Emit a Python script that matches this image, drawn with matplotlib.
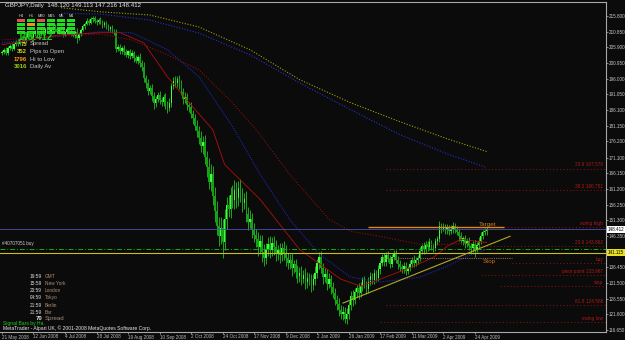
import numpy as np
import matplotlib
matplotlib.use("Agg")
import matplotlib.pyplot as plt
from matplotlib.patches import Rectangle

# GBPJPY daily bars, 21 May 2008 -> early May 2009
first_open = 204.0
closes = [
    204.5, 205.2, 204.0, 205.8, 206.3, 205.5, 207.0, 207.6, 206.9, 208.2,
    208.8, 207.9, 209.3, 210.1, 209.4, 208.6, 210.2, 210.9, 209.8, 210.5,
    211.2, 210.4, 211.6, 212.0, 210.9, 211.5, 212.3, 211.7, 210.8, 211.9,
    211.0, 209.9, 210.7, 211.8, 211.2, 210.3, 209.6, 210.8, 208.7, 210.2,
    211.5, 212.6, 213.4, 214.2, 213.6, 214.8, 215.1, 214.3, 213.8, 214.6,
    213.9, 212.8, 213.5, 212.4, 211.6, 212.2, 211.0, 210.6, 205.4, 205.9,
    204.8, 205.6, 204.3, 203.5, 204.6, 203.2, 204.0, 202.5, 201.6, 202.8,
    200.9, 199.8, 196.2, 194.5, 192.1, 193.0, 190.4, 188.2, 189.6, 190.8,
    189.3, 188.5, 190.1, 187.9, 186.8, 188.4, 193.6, 195.2, 194.7, 195.9,
    194.1, 191.8, 189.5, 190.3, 187.6, 186.9, 184.8, 183.5, 181.2, 179.6,
    177.4, 174.8, 175.9, 171.2, 168.0, 163.5, 165.8, 158.9, 154.2, 149.6,
    146.3, 148.8, 144.5, 151.7, 156.2, 154.8, 159.4, 157.6, 160.8, 158.3,
    161.5, 159.2, 156.8, 157.9, 153.4, 150.6, 151.8, 148.2, 146.5, 145.3,
    142.8, 144.6, 141.2, 139.4, 142.3, 143.8, 141.9, 144.2, 142.7, 140.5,
    141.8, 140.2, 142.6, 141.0, 139.3, 137.8, 138.9, 136.2, 137.4, 135.1,
    133.6, 134.8, 132.9, 134.1, 131.8, 133.2, 132.4, 130.9, 132.6, 134.5,
    137.8, 139.6, 136.2, 133.5, 134.4, 131.2, 132.8, 130.1, 128.4, 126.2,
    124.8, 123.1, 121.6, 122.4, 120.2, 121.8, 124.6, 127.3, 126.1, 128.5,
    129.8, 128.2, 130.6, 132.4, 131.1, 129.6, 131.9, 133.8, 132.5, 134.6,
    133.2, 135.8, 137.9, 139.6, 138.2, 140.4, 139.1, 137.6, 139.8, 140.6,
    138.9, 137.4, 136.5, 135.8, 136.9, 135.4, 136.2, 137.5, 138.8, 137.9,
    138.6, 139.4, 141.6, 143.2, 142.1, 143.8, 142.9, 144.3, 143.1, 142.4,
    144.6, 145.3, 149.4, 148.6, 149.2, 148.1, 148.9, 147.8, 148.5, 149.6,
    148.3, 147.6, 146.2, 144.8, 145.6, 143.9, 144.7, 143.2, 142.6, 143.8,
    141.9, 143.5, 144.9, 146.3, 147.5, 147.9, 148.412,
]
wick_hi = [
    0.6, 0.4, 0.9, 0.5, 0.7, 0.8, 0.4, 0.6, 1.0, 0.5,
    0.7, 0.9, 0.4, 0.6, 0.8, 0.5, 0.7, 0.4, 0.9, 0.6,
    0.5, 0.8, 0.6, 0.4, 0.9, 0.7, 0.5, 0.8, 0.6, 0.4,
    0.7, 0.9, 0.5, 0.6, 0.8, 0.4, 0.7, 0.5, 1.1, 0.6,
    0.5, 0.7, 0.6, 0.9, 0.5, 0.6, 0.8, 0.7, 0.5, 0.6,
    0.8, 0.5, 0.7, 0.6, 0.9, 0.5, 0.8, 0.6, 1.2, 0.9,
    1.0, 0.7, 0.9, 1.1, 0.6, 0.8, 1.0, 0.7, 0.9, 0.8,
    1.2, 0.9, 1.4, 1.0, 1.3, 0.9, 1.2, 1.5, 1.0, 1.1,
    1.3, 0.9, 1.2, 1.4, 1.0, 1.6, 1.1, 1.3, 1.5, 0.9,
    1.2, 1.5, 1.1, 1.4, 1.3, 1.0, 1.6, 1.2, 1.4, 1.8,
    1.5, 2.2, 1.9, 2.4, 2.0, 2.8, 3.2, 2.5, 2.9, 3.1,
    2.6, 3.4, 2.8, 3.1, 2.5, 3.0, 2.4, 2.9, 3.2, 2.6,
    2.2, 2.7, 2.4, 1.9, 2.5, 2.1, 2.6, 1.8, 2.3, 2.0,
    2.4, 1.9, 2.2, 2.6, 1.8, 2.1, 2.5, 1.7, 2.0, 2.3,
    1.8, 2.2, 1.6, 2.0, 2.4, 1.7, 1.9, 2.2, 1.5, 1.8,
    2.1, 1.6, 1.9, 1.4, 2.0, 1.7, 1.5, 1.9, 1.6, 2.2,
    1.4, 1.8, 2.0, 1.6, 1.9, 1.5, 1.8, 1.3, 1.7, 1.5,
    1.6, 1.9, 1.4, 1.7, 1.5, 1.8, 1.3, 1.6, 1.9, 1.4,
    1.2, 1.6, 1.3, 1.0, 1.4, 1.1, 1.5, 1.2, 0.9, 1.3,
    1.1, 1.4, 1.0, 1.2, 1.5, 0.9, 1.3, 1.1, 1.0, 1.2,
    1.4, 1.0, 1.2, 0.9, 1.3, 1.1, 0.8, 1.2, 1.0, 1.4,
    1.1, 0.9, 1.3, 1.0, 1.2, 0.8, 1.1, 1.3, 0.9, 1.0,
    1.2, 0.9, 1.6, 1.1, 1.3, 0.9, 1.2, 1.0, 1.4, 1.1,
    0.9, 1.2, 1.0, 1.3, 0.8, 1.1, 1.0, 1.2, 0.9, 1.1,
    1.3, 0.9, 1.0, 1.2, 0.8, 1.1, 0.7,
]
wick_lo = [
    0.5, 0.8, 0.6, 0.4, 0.9, 0.7, 0.5, 0.8, 0.6, 0.4,
    0.8, 0.6, 0.5, 0.9, 0.4, 0.7, 0.6, 0.8, 0.5, 0.7,
    0.9, 0.5, 0.7, 0.6, 0.8, 0.4, 0.7, 0.9, 0.5, 0.6,
    0.6, 0.8, 0.5, 0.7, 0.4, 0.9, 0.6, 0.8, 1.3, 0.5,
    0.7, 0.5, 0.8, 0.6, 0.7, 0.5, 0.9, 0.6, 0.8, 0.5,
    0.6, 0.9, 0.5, 0.7, 0.6, 0.8, 0.5, 0.9, 1.0, 0.8,
    0.9, 1.1, 0.8, 0.7, 1.0, 0.9, 0.6, 1.1, 0.8, 1.0,
    1.1, 1.4, 1.2, 1.6, 1.3, 1.1, 1.5, 1.8, 1.2, 1.0,
    1.4, 1.2, 1.0, 1.5, 1.7, 1.1, 1.3, 0.9, 1.2, 1.4,
    1.3, 1.1, 1.6, 1.2, 1.5, 1.4, 1.3, 1.7, 1.5, 1.9,
    2.1, 1.8, 2.6, 2.3, 2.9, 2.4, 3.1, 2.7, 3.3, 2.8,
    3.0, 2.5, 5.0, 2.7, 3.2, 2.6, 2.9, 2.4, 2.8, 3.1,
    2.5, 2.2, 2.8, 2.0, 2.6, 2.3, 1.9, 2.5, 2.1, 2.4,
    2.7, 2.0, 3.2, 2.4, 1.9, 2.2, 2.6, 1.8, 2.3, 2.1,
    1.9, 2.3, 1.7, 2.1, 2.5, 1.8, 2.0, 2.4, 1.6, 1.9,
    2.2, 1.7, 2.0, 1.5, 2.3, 1.8, 1.6, 2.1, 1.7, 1.9,
    1.5, 2.0, 1.7, 2.2, 1.6, 1.9, 1.4, 2.0, 1.8, 1.6,
    1.7, 2.0, 1.5, 1.9, 1.4, 1.6, 1.8, 1.5, 2.0, 1.3,
    1.4, 1.7, 1.2, 1.5, 1.1, 1.6, 1.3, 1.0, 1.4, 1.2,
    1.3, 1.0, 1.5, 1.1, 1.4, 1.2, 0.9, 1.3, 1.1, 1.0,
    1.2, 1.5, 1.1, 1.3, 1.0, 1.4, 1.2, 0.9, 1.1, 1.3,
    1.0, 1.2, 0.9, 1.1, 1.4, 1.0, 1.2, 0.9, 1.3, 1.1,
    0.9, 1.1, 1.0, 1.3, 0.8, 1.2, 1.0, 1.1, 0.9, 1.2,
    1.1, 0.9, 1.3, 1.0, 1.2, 1.4, 1.1, 1.3, 1.6, 1.2,
    2.3, 1.0, 0.9, 1.1, 1.0, 0.8, 1.2,
]

# moving averages, read at bar positions
ma_yel_i = [30, 50, 75, 100, 126, 151, 177, 202, 227, 246]
ma_yel = [218.4, 217.1, 216.1, 212.3, 205.1, 195.7, 188.4, 182.4, 176.8, 173.0]
ma_blu_i = [30, 50, 75, 100, 126, 151, 177, 202, 227, 246]
ma_blu = [216.6, 216.4, 214.5, 210.4, 203.5, 194.7, 186.2, 178.3, 172.0, 168.0]
ma_mid_i = [0, 26, 50, 66, 84, 100, 117, 131, 146, 161, 177, 192, 212, 226, 236, 246]
ma_mid = [207.3, 209.2, 210.8, 210.5, 205.1, 196.6, 180.9, 165.8, 151.6, 140.6,
          133.3, 131.8, 133.3, 136.8, 139.9, 142.1]
ma_fast_i = [0, 14, 29, 50, 60, 72, 84, 95, 107, 113, 131, 151, 172, 182, 192,
             209, 219, 226, 233, 246]
ma_fast = [206.7, 208.2, 209.8, 210.5, 210.5, 207.3, 196.6, 188.4, 179.9, 168.9,
           157.9, 142.1, 132.7, 130.5, 132.7, 136.8, 139.6, 143.1, 145.3, 144.3]
ma_red_i = [0, 24, 50, 66, 84, 100, 117, 129, 146, 166, 177, 192, 212, 226, 246]
ma_red = [208.2, 209.2, 210.1, 208.2, 203.5, 198.8, 188.4, 179.9, 165.8, 151.6,
          147.8, 146.2, 143.7, 143.7, 144.3]

# fib / object levels: price, label, start bar
fib_prices = [167.578, 160.751, 149.07, 143.1, 137.7, 133.967, 130.5, 124.586, 119.2]
fib_labels = ["23.6 167.578", "38.2 160.751", "swing high", "23.6 143.862", "buy",
              "pivot point 133.967", "stop", "61.8 124.586", "swing low"]
fib_start = [195, 195, 255, 239, 259, 243, 253, 195, 192]

bid = 148.412
line_price = 141.115
order_price = 142.15
target_price = 149.07
stop_price = 139.3
trend_i = [173.1, 257.9]
trend_p = [125.15, 146.24]

date_labels = ["21 May 2008", "12 Jun 2008", "4 Jul 2008", "28 Jul 2008", "19 Aug 2008",
               "10 Sep 2008", "2 Oct 2008", "24 Oct 2008", "17 Nov 2008", "9 Dec 2008",
               "2 Jan 2009", "26 Jan 2009", "17 Feb 2009", "11 Mar 2009", "2 Apr 2009",
               "24 Apr 2009"]
date_pos = [0, 16, 32, 48, 64, 80, 96, 112, 128, 144, 160, 176, 192, 208, 224, 240]
price_ticks = [215.8, 210.85, 205.9, 200.95, 196.0, 191.05, 186.1, 181.15, 176.2, 171.1,
               166.15, 161.2, 156.25, 151.3, 146.35, 136.45, 131.5, 126.55, 121.6, 116.65]

panel_tf = ["H4", "H1", "M30", "M15", "M5", "M1"]
panel_colors = [
    ["#e05050", "#22dd22", "#e05050", "#22dd22", "#22dd22", "#22dd22"],
    ["#22dd22", "#e09a20", "#22dd22", "#22dd22", "#22dd22", "#22dd22"],
    ["#22dd22", "#22dd22", "#22dd22", "#22dd22", "#22dd22", "#22dd22"],
    ["#22dd22", "#22dd22", "#22dd22", "#22dd22", "#22dd22", "#22dd22"],
]
info_nums = ["75", "352", "1796", "3016"]
info_names = ["Spread", "Pips to Open", "Hi to Low", "Daily Av"]
info_cols = ["#d8d020", "#d8d020", "#ff9a10", "#a0d010"]
clock_times = ["19:59", "15:59", "20:59", "04:59", "21:59", "21:59"]
clock_names = ["GMT", "New York", "London", "Tokyo", "Berlin", "Bar"]

BG = "#0b0b0b"
plt.rcParams["font.family"] = ["Liberation Sans", "DejaVu Sans"]

fig = plt.figure(figsize=(6.25, 3.4), dpi=100, facecolor=BG)
ax = fig.add_axes([0, 8 / 340, 606 / 625, 330 / 340], facecolor=BG)

# candles
c = np.array(closes)
o = np.array([first_open] + closes[:-1])
hi = np.maximum(o, c) + np.array(wick_hi)
lo = np.minimum(o, c) - np.array(wick_lo)
idx = np.arange(len(c))
up = c >= o
ax.vlines(idx, lo, hi, color="#1fc01f", lw=0.6, zorder=2)
body = np.maximum(np.abs(c - o), 0.25)
ax.bar(idx[up], body[up], bottom=np.minimum(o, c)[up], width=0.75, color="#3cff3c", lw=0, zorder=3)
ax.bar(idx[~up], body[~up], bottom=np.minimum(o, c)[~up], width=0.75, color="#16a016", lw=0, zorder=3)

# moving averages
ax.plot(ma_yel_i, ma_yel, color="#a0a010", lw=0.8, ls=(0, (1, 1.5)), zorder=4)
ax.plot(ma_blu_i, ma_blu, color="#2233cc", lw=0.8, ls=(0, (1, 1.5)), zorder=4)
ax.plot(ma_mid_i, ma_mid, color="#1a28b0", lw=0.8, ls=(0, (1, 1)), zorder=4)
ax.plot(ma_red_i, ma_red, color="#8c0c0c", lw=0.8, ls=(0, (1, 1.5)), zorder=4)
ax.plot(ma_fast_i, ma_fast, color="#b01010", lw=0.6, zorder=4)

# horizontal objects
ax.axhline(bid, color="#5050b0", lw=0.6, zorder=5)
ax.axhline(order_price, color="#10b010", lw=0.7, ls=(0, (5, 2, 1, 2)), zorder=5)
ax.axhline(line_price, color="#c8c020", lw=0.8, zorder=5)
for p, s in zip(fib_prices, fib_start):
    ax.hlines(p, s, 320, color="#9a1010", lw=0.7, ls=(0, (1, 2.5)), zorder=4)
ax.hlines(target_price, 186, 255, color="#e08a10", lw=1.0, zorder=6)
ax.hlines(stop_price, 192, 259, color="#8a6a50", lw=0.8, ls=(0, (1, 1)), zorder=6)
ax.plot(trend_i, trend_p, color="#b0a828", lw=0.8, zorder=6)

ytr = ax.get_yaxis_transform()
for p, lab in zip(fib_prices, fib_labels):
    ax.text(0.995, p + 0.4, lab, transform=ytr, ha="right", va="bottom",
            fontsize=3.4, color="#b01818", zorder=7)
ax.text(242, target_price + 0.2, "Target", fontsize=4.6, color="#c88030", va="bottom", zorder=7)
ax.text(244, stop_price - 0.3, "Stop", fontsize=4.6, color="#c86a20", va="top", zorder=7)
ax.text(0.004, order_price + 0.9, "#40707051 buy", transform=ytr, fontsize=3.3,
        color="#d0d0d0", va="bottom", zorder=7)

# price boxes on the scale
ax.text(1.003, bid, "148.412", transform=ytr, fontsize=3.3, color="black", va="center",
        ha="left", clip_on=False, bbox=dict(fc="white", ec="none", pad=0.6), zorder=8)
ax.text(1.003, line_price, "141.115", transform=ytr, fontsize=3.3, color="black",
        va="center", ha="left", clip_on=False,
        bbox=dict(fc="#e8e020", ec="none", pad=0.6), zorder=8)

ax.set_xlim(-1, 306.6)
ax.set_ylim(116.02, 220.2)
ax.yaxis.tick_right()
ax.set_yticks(price_ticks)
ax.set_yticklabels([f"{v:.3f}" for v in price_ticks])
ax.set_xticks(date_pos)
ax.set_xticklabels(date_labels, ha="left")
ax.tick_params(colors="#b8b8b8", labelsize=3.3, length=1.5, width=0.5)
ax.tick_params(axis="y", labelcolor="#c8c8c8", pad=0.6)
ax.tick_params(axis="x", pad=0.3)
for side in ["top", "right", "bottom"]:
    ax.spines[side].set_color("#a8a8a8")
    ax.spines[side].set_linewidth(0.8)
ax.spines["left"].set_visible(False)

# overlay in pixel coordinates for terminal widgets
ov = fig.add_axes([0, 0, 1, 1], facecolor="none")
ov.set_xlim(0, 625)
ov.set_ylim(340, 0)
ov.axis("off")
ov.text(5, 5, "GBPJPY,Daily  148.120 149.113 147.216 148.412", fontsize=4.4,
        color="#e8e8e8", va="center")
for k, tf in enumerate(panel_tf):
    ov.text(21 + 10 * k, 16, tf, fontsize=2.8, color="#e0e0e0", ha="center", va="center")
for r, row in enumerate(panel_colors):
    for k, col in enumerate(row):
        ov.add_patch(Rectangle((17 + 10 * k, 19 + 4 * r), 8, 3, fc=col, ec="none"))
ov.text(17, 37, "148.412", fontsize=7, fontweight="bold", color="#19c819", va="center")
for r, (n, name, col) in enumerate(zip(info_nums, info_names, info_cols)):
    ov.text(27, 44 + 7.6 * r, n, fontsize=4.2, color=col, ha="right", va="center", fontweight="bold")
    ov.text(30, 44 + 7.6 * r, name, fontsize=4.2, color="#c8c8c8", va="center")
for r, (t, name) in enumerate(zip(clock_times, clock_names)):
    ov.text(42, 276 + 7.3 * r, t, fontsize=3.4, color="#e0e0e0", ha="right", va="center")
    ov.text(45, 276 + 7.3 * r, name, fontsize=3.4, color="#b09070", va="center")
ov.text(42, 318.5, "70", fontsize=4.4, color="#e0e0e0", ha="right", va="center", fontweight="bold")
ov.text(45, 318.5, "Spread", fontsize=4.4, color="#a09080", va="center")
ov.text(3, 323.5, "Signal Bars by Ha", fontsize=3.6, color="#20d020", va="center")
ov.text(3, 328.5, "MetaTrader - Alpari UK, \u00a9 2001-2008 MetaQuotes Software Corp.",
        fontsize=3.6, color="#e8e8e8", va="center")

fig.savefig("out.png", dpi=100, facecolor=BG)
